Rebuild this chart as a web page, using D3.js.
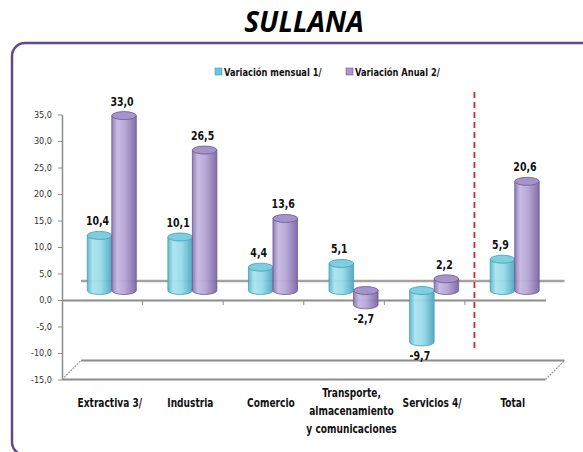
<!DOCTYPE html>
<html>
<head>
<meta charset="utf-8">
<script src="https://d3js.org/d3.v7.min.js"></script>
<style>
  body { margin: 0; background: #fff; }
  svg text { font-family: "Liberation Sans Narrow", "DejaVu Sans Condensed", "Open Sans", sans-serif; }
</style>
</head>
<body>
<script>
// data
const categories = ["Extractiva 3/", "Industria", "Comercio", "Transporte, almacenamiento y comunicaciones", "Servicios 4/", "Total"];
const categoryLines = [["Extractiva 3/"], ["Industria"], ["Comercio"], ["Transporte,", "almacenamiento", "y comunicaciones"], ["Servicios 4/"], ["Total"]];
const mensual = [10.4, 10.1, 4.4, 5.1, -9.7, 5.9];
const anual = [33.0, 26.5, 13.6, -2.7, 2.2, 20.6];
const seriesNames = ["Variación mensual 1/", "Variación Anual 2/"];
const yTicks = [35, 30, 25, 20, 15, 10, 5, 0, -5, -10, -15];

const width = 583, height = 452;
const depth = 19;          // 3d depth of the plot box
const half = depth / 2;
const cylW = 24.5, ry = 4;
const squeeze = 0.84;      // narrow the text like the original condensed font
const fmt = v => d3.format(".1f")(v).replace(".", ",").replace("\u2212", "-");

const svg = d3.select("body").append("svg")
    .attr("width", width).attr("height", height);

const defs = svg.append("defs");
function grad(id, stops) {
  const g = defs.append("linearGradient").attr("id", id)
      .attr("x1", "0%").attr("x2", "100%").attr("y1", "0%").attr("y2", "0%");
  stops.forEach(s => g.append("stop").attr("offset", s[0]).attr("stop-color", s[1]));
}
grad("gCyan", [["0%", "#5db5ca"], ["22%", "#a9e3ef"], ["55%", "#98dbe9"], ["100%", "#4ea7be"]]);
grad("gPurp", [["0%", "#8a76b2"], ["22%", "#c6b9e1"], ["55%", "#b3a3d4"], ["100%", "#7a66a3"]]);

const styles = [
  { body: "url(#gCyan)", top: "#7fcddf", stroke: "#3f9fb7", legend: "#6cc6da" },
  { body: "url(#gPurp)", top: "#a593ca", stroke: "#6c5995", legend: "#a998cc" }
];

// narrow text placed at (px,py)
function narrow(px, py) {
  return svg.append("text").attr("transform", `translate(${px},${py}) scale(${squeeze},1)`)
     .attr("fill", "#111").style("font-weight", "bold");
}

// title and frame
svg.append("text").attr("x", 304).attr("y", 32).attr("text-anchor", "middle")
   .style("font-family", "'Open Sans', 'DejaVu Sans', sans-serif")
   .style("font-size", "28px").style("font-weight", "bold").style("font-style", "italic")
   .text("SULLANA");

svg.append("rect").attr("x", 12).attr("y", 43).attr("width", 640).attr("height", 412)
   .attr("rx", 13).attr("fill", "none").attr("stroke", "#5f4d87").attr("stroke-width", 2.5);

// scales
const x = d3.scaleBand().domain(categories).range([62, 545.5]);
const y = d3.scaleLinear().domain([-15, 35]).range([379.5, 114.5]);

// y axis
const yg = svg.append("g").attr("transform", "translate(62,0)")
   .call(d3.axisLeft(y).tickValues(yTicks).tickFormat(fmt).tickSize(4).tickSizeOuter(0));
yg.select(".domain").attr("stroke", "#8c8c8c").attr("stroke-width", 1.5);
yg.selectAll(".tick line").attr("stroke", "#8c8c8c");
yg.selectAll(".tick text").attr("fill", "#333").style("font-size", "9px").attr("dx", "-3px");

// floor at -15
const x0 = x.range()[0], x1 = x.range()[1];
const yf = y(-15);
svg.append("path")
   .attr("d", `M${x0},${yf} L${x1},${yf} M${x0 + depth},${yf - depth} L${x1 + depth},${yf - depth}`)
   .attr("stroke", "#8c8c8c").attr("stroke-width", 2).attr("fill", "none");
svg.append("path")
   .attr("d", `M${x0},${yf} L${x0 + depth},${yf - depth} M${x1},${yf} L${x1 + depth},${yf - depth}`)
   .attr("stroke", "#9a9a9a").attr("stroke-width", 1.2).attr("stroke-dasharray", "2,1").attr("fill", "none");

// zero plane: back line and front line with category ticks
svg.append("line").attr("x1", x0 + depth).attr("x2", x1 + depth)
   .attr("y1", y(0) - depth).attr("y2", y(0) - depth)
   .attr("stroke", "#a3a3a3").attr("stroke-width", 2.5);
const xg = svg.append("g").attr("transform", `translate(0,${y(0)})`)
   .call(d3.axisBottom(x).tickValues([]).tickSizeOuter(0));
xg.select(".domain").attr("stroke", "#8c8c8c").attr("stroke-width", 2);
const bounds = categories.map(c => x(c) + x.bandwidth()).slice(0, -1);
xg.selectAll(".bound").data(bounds).join("line").attr("class", "bound")
   .attr("x1", d => d).attr("x2", d => d).attr("y1", 0).attr("y2", 5)
   .attr("stroke", "#8c8c8c").attr("stroke-width", 1);

// cylinders
const yb = v => y(v) - half;
function cylinder(g, cx, v, st) {
  const a = yb(0), b = yb(v);
  const yt = Math.min(a, b), ybot = Math.max(a, b);
  const l = cx - cylW / 2, r = cx + cylW / 2;
  g.append("path")
   .attr("d", `M${l},${yt} L${l},${ybot} A${cylW / 2},${ry} 0 0 0 ${r},${ybot} L${r},${yt} Z`)
   .attr("fill", st.body).attr("stroke", st.stroke).attr("stroke-width", 0.8).attr("fill-opacity", 0.95);
  g.append("ellipse").attr("cx", cx).attr("cy", yt).attr("rx", cylW / 2).attr("ry", ry)
   .attr("fill", st.top).attr("stroke", st.stroke).attr("stroke-width", 0.8);
}

const bars = svg.append("g");
const series = [mensual, anual];
categories.forEach((c, i) => {
  const cc = x(c) + x.bandwidth() / 2 + half;
  series.forEach((s, k) => {
    const cx = cc + (k === 0 ? -cylW / 2 : cylW / 2);
    cylinder(bars, cx, s[i], styles[k]);
  });
});

// red dashed separator before Total
const sep = x("Total") + half;
svg.append("line").attr("x1", sep).attr("x2", sep).attr("y1", 92).attr("y2", 348)
   .attr("stroke", "#d42a2a").attr("stroke-width", 1.8).attr("stroke-dasharray", "6,4");

// data labels
categories.forEach((c, i) => {
  const cc = x(c) + x.bandwidth() / 2 + half;
  series.forEach((s, k) => {
    const v = s[i];
    const cx = cc + (k === 0 ? -cylW / 2 : cylW / 2) - 2;
    narrow(cx, v >= 0 ? yb(v) - 10 : yb(v) + 18)
       .attr("text-anchor", "middle").style("font-size", "12.5px").text(fmt(v));
  });
});

// category labels
categoryLines.forEach((lines, i) => {
  const cc = x(categories[i]) + x.bandwidth() / 2 + half;
  const y0 = lines.length > 1 ? 397 : 407;
  const t = narrow(cc - 2, y0).attr("text-anchor", "middle").style("font-size", "12px");
  lines.forEach((ln, j) => t.append("tspan").attr("x", 0).attr("y", j * 18).text(ln));
});

// legend
const lx = [215, 346];
seriesNames.forEach((n, k) => {
  svg.append("rect").attr("x", lx[k]).attr("y", 68).attr("width", 7).attr("height", 7)
    .attr("fill", styles[k].legend).attr("stroke", styles[k].stroke).attr("stroke-width", 0.6);
  narrow(lx[k] + 9, 76).style("font-size", "11px").text(n);
});
</script>
</body>
</html>
